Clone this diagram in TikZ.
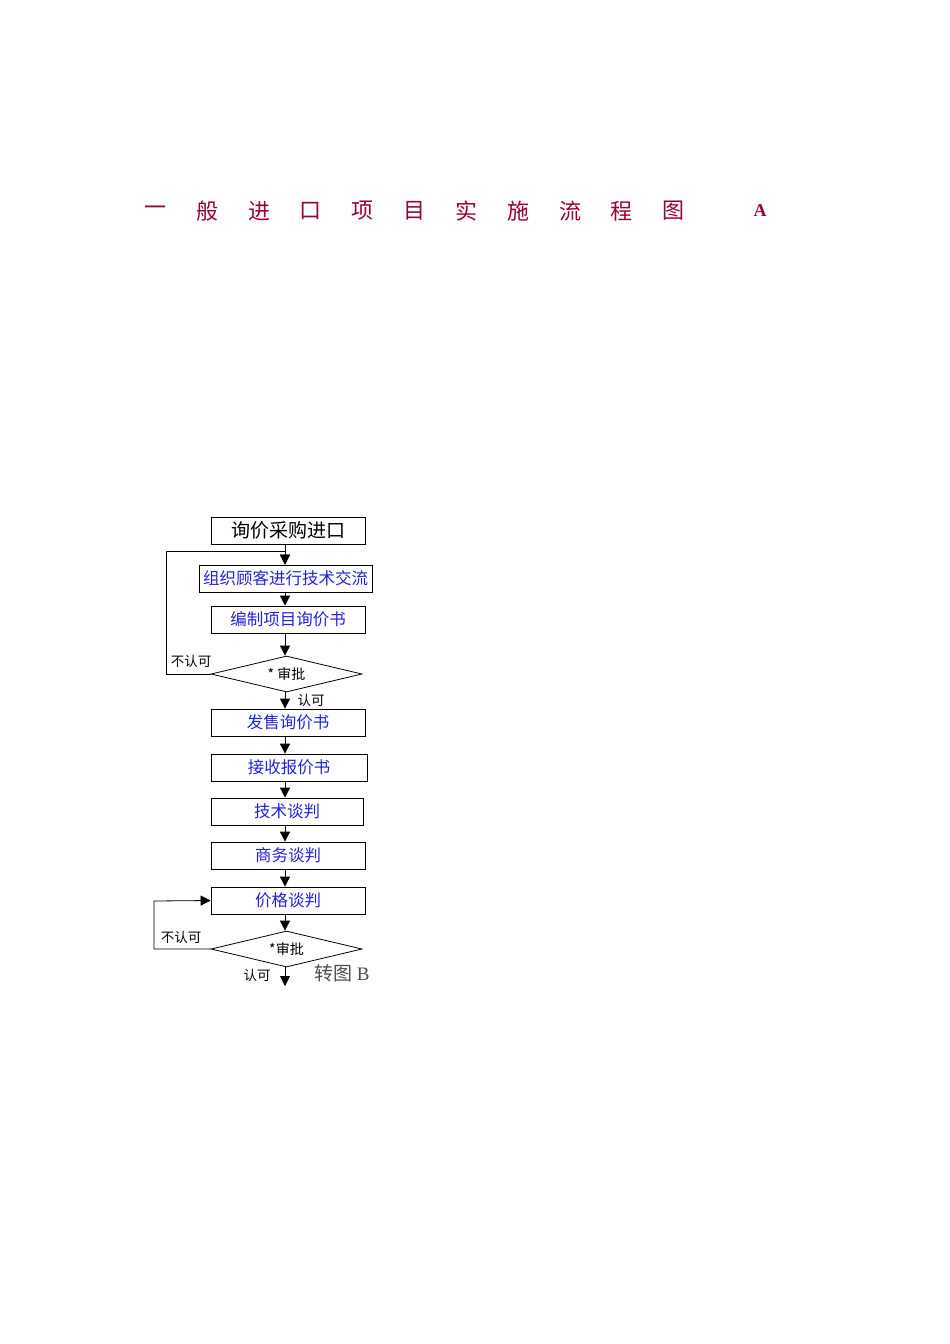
\documentclass[tikz,border=0pt]{standalone}
\usepackage{fontspec}
\setmainfont{Liberation Serif}
\newfontfamily\cjk{Noto Sans CJK SC}
\usetikzlibrary{shapes.geometric,arrows.meta}
\definecolor{ttl}{HTML}{990033}
\definecolor{bl}{HTML}{2222DD}
\begin{document}
\begin{tikzpicture}[x=1pt,y=-1pt,
  bx/.style={draw,thick,inner sep=0pt,font=\cjk\fontsize{16.5}{16.5}\selectfont,text=bl},
  dm/.style={draw,thick,diamond,aspect=4.2,minimum width=151pt,minimum height=36pt,inner sep=0pt,font=\cjk\fontsize{14}{14}\selectfont},
  ar/.style={draw,thick,-{Triangle[length=10pt,width=10pt]}},
  lb/.style={font=\cjk\fontsize{13.5}{13.5}\selectfont,inner sep=0pt}]
\useasboundingbox (0,0) rectangle (950,1344);
\foreach \c/\x in {一/155,般/207,进/259,口/310,项/362,目/414,实/466,施/518,流/570,程/621,图/673}
  \node[text=ttl,font=\cjk\fontsize{22}{22}\selectfont] (t\x) at (\x,211) {\c};
\node[text=ttl,font=\bfseries\fontsize{18}{18}\selectfont] (tA) at (760,211) {A};
\node[bx,text=black,minimum width=154pt,minimum height=27pt,font=\cjk\fontsize{19}{19}\selectfont] (b1) at (288,530.5) {询价采购进口};
\node[bx,minimum width=173pt,minimum height=27pt] (b2) at (285.5,578.5) {组织顾客进行技术交流};
\node[bx,minimum width=154pt,minimum height=27pt] (b3) at (288,619.5) {编制项目询价书};
\node[dm] (d1) at (286.5,674) {*\ 审批};
\node[bx,minimum width=154pt,minimum height=27pt] (b4) at (288,722.5) {发售询价书};
\node[bx,minimum width=156pt,minimum height=27pt] (b5) at (289,767.5) {接收报价书};
\node[bx,minimum width=152pt,minimum height=27pt] (b6) at (287,811.5) {技术谈判};
\node[bx,minimum width=154pt,minimum height=27pt] (b7) at (288,855.5) {商务谈判};
\node[bx,minimum width=154pt,minimum height=27pt] (b8) at (288,900.5) {价格谈判};
\node[dm] (d2) at (286.5,949) {*审批};
\coordinate (c1) at (285,551);
\coordinate (end) at (285,986);
\draw[ar] (b1.south -| c1) -- (b2.north -| c1);
\draw[ar] (d1.west) -- (166,674) -- (166,551) -- (c1) -- (b2.north -| c1);
\draw[ar] (b2.south -| c1) -- (b3.north -| c1);
\draw[ar] (b3.south -| c1) -- (d1.north -| c1);
\draw[ar] (d1.south -| c1) -- (b4.north -| c1);
\draw[ar] (b4.south -| c1) -- (b5.north -| c1);
\draw[ar] (b5.south -| c1) -- (b6.north -| c1);
\draw[ar] (b6.south -| c1) -- (b7.north -| c1);
\draw[ar] (b7.south -| c1) -- (b8.north -| c1);
\draw[ar] (b8.south -| c1) -- (d2.north -| c1);
\draw[ar] (d2.west) -- (154,949) -- (154,901) -- (b8.west);
\draw[ar] (d2.south -| c1) -- (end);
\node[lb] (l1) at (191,661) {不认可};
\node[lb] (l2) at (311,700) {认可};
\node[lb] (l3) at (181,937) {不认可};
\node[lb] (l4) at (257,975) {认可};
\node[inner sep=0pt,text=black!70,font=\cjk\fontsize{19}{19}\selectfont] (l5) at (342,973) {转图 \rmfamily B};
\end{tikzpicture}
\end{document}
